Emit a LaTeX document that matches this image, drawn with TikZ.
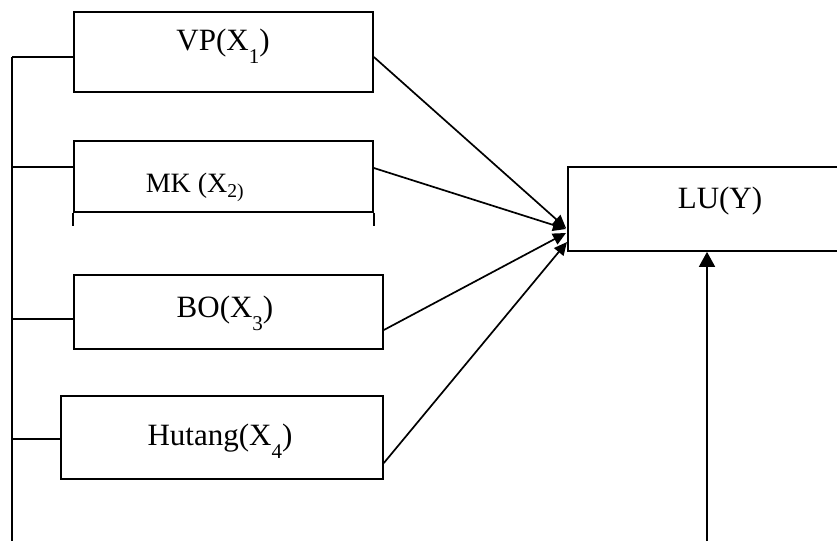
\documentclass[tikz,border=0pt]{standalone}
\usepackage{fontspec}
\setmainfont{Liberation Serif}
\usetikzlibrary{arrows.meta}
\newcommand{\sbx}[1]{\raisebox{-0.45em}{\fontsize{21}{23}\selectfont #1}}
\begin{document}
\begin{tikzpicture}[x=1pt,y=-1pt,line width=1.7pt,
  box/.style={draw,rectangle,inner sep=0pt},
  lbl/.style={inner sep=0pt,anchor=base,font=\fontsize{31}{34}\selectfont},
  arr/.style={-{Triangle[length=13pt,width=12pt]}},
  uparr/.style={-{Triangle[length=15pt,width=16pt]}}]
\useasboundingbox (0,0) rectangle (837,541);
\clip (0,0) rectangle (837,541);
% boxes
\node[box,minimum width=299pt,minimum height=80pt] (vp) at (223.5,52) {};
\node[box,minimum width=299pt,minimum height=71pt] (mk) at (223.5,176.5) {};
\node[box,minimum width=309pt,minimum height=74pt] (bo) at (228.5,312) {};
\node[box,minimum width=322pt,minimum height=83pt] (hu) at (222,437.5) {};
\node[box,minimum width=300pt,minimum height=84pt] (lu) at (718,209) {};
% labels
\node[lbl] (tvp) at (223,50) {VP(X\sbx{1})};
\node[lbl,font=\fontsize{28}{30}\selectfont] (tmk) at (195,192) {MK (X\textsubscript{2)}};
\node[lbl] (tbo) at (225,317) {BO(X\sbx{3})};
\node[lbl] (thu) at (220,445) {Hutang(X\sbx{4})};
\node[lbl] (tlu) at (720,208) {LU(Y)};
% MK box extensions
\draw (mk.south west) -- ++(0,13);
\draw (mk.south east) -- ++(0,13);
% left bracket
\coordinate (lt) at (12,57);
\coordinate (lb) at (12,541);
\draw (lt) -- (lb);
\draw (lt) -- (vp.west |- lt);
\draw (12,167) -- (mk.west |- 0,167);
\draw (12,319) -- (bo.west |- 0,319);
\draw (12,439) -- (hu.west |- 0,439);
% arrows to LU
\coordinate (t1) at (566,228);
\coordinate (t2) at (566,229);
\coordinate (t3) at (566,233);
\coordinate (t4) at (567,242);
\draw[arr] (vp.east |- 0,57) -- (t1);
\draw[arr] (mk.east |- 0,168) -- (t2);
\draw[arr] (bo.east |- 0,330) -- (t3);
\draw[arr] (hu.east |- 0,463) -- (t4);
% bottom arrow
\coordinate (bt) at (707,541);
\draw[uparr] (bt) -- (bt |- lu.south);
\end{tikzpicture}
\end{document}
